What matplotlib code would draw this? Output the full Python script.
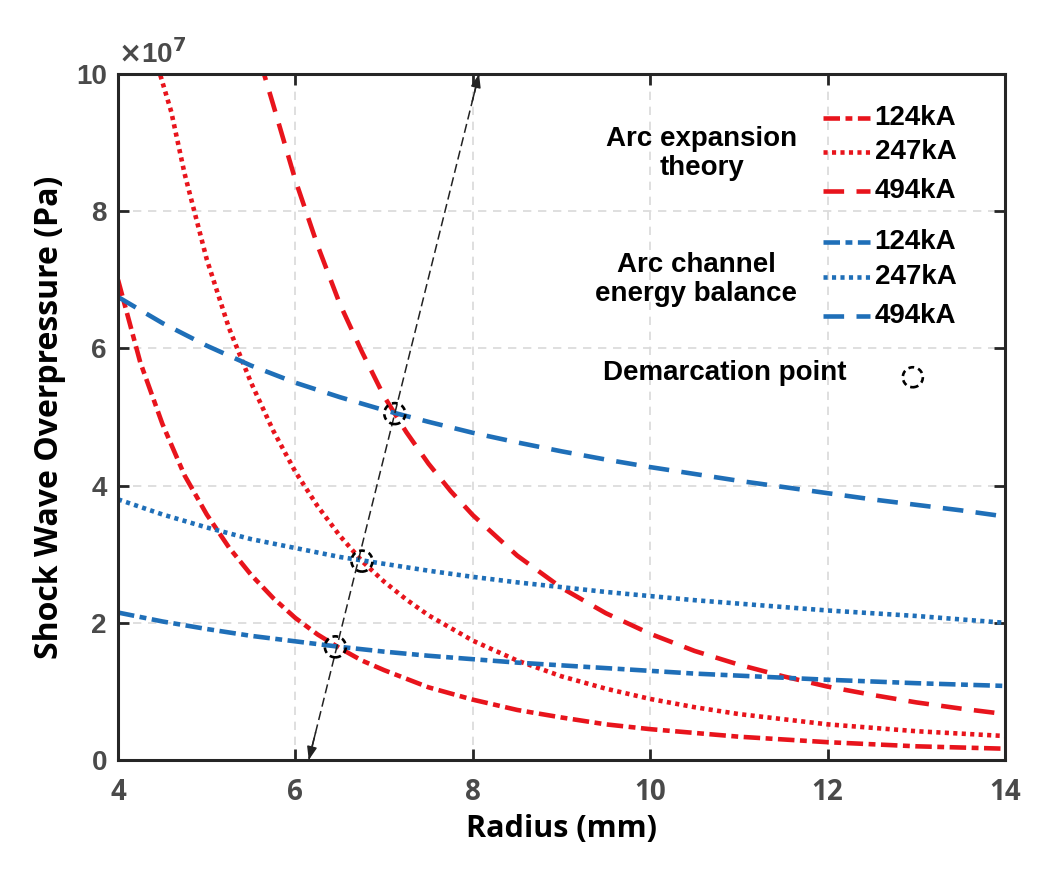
import numpy as np
import matplotlib
matplotlib.use("Agg")
import matplotlib.pyplot as plt
from matplotlib.patches import Circle
from matplotlib.transforms import ScaledTranslation

# ---------------- data (overpressure in units of 1e7 Pa) ----------------
r_red124 = [4.0, 4.25, 4.5, 4.75, 5.0, 5.25, 5.5, 5.75, 6.0, 6.25, 6.5, 6.75, 7.0, 7.5,
            8.0, 8.5, 9.0, 9.5, 10.0, 11.0, 12.0, 13.0, 14.0]
p_red124 = [7.0, 5.8, 4.9, 4.15, 3.58, 3.1, 2.7, 2.36, 2.07, 1.83, 1.63, 1.45, 1.31, 1.06,
            0.88, 0.73, 0.62, 0.52, 0.45, 0.34, 0.26, 0.20, 0.165]

r_red247 = [4.45, 4.6, 4.75, 5.0, 5.25, 5.5, 5.75, 6.0, 6.25, 6.5, 6.75, 7.0, 7.25, 7.5,
            8.0, 8.5, 9.0, 9.5, 10.0, 10.5, 11.0, 12.0, 13.0, 14.0]
p_red247 = [10.1, 9.45, 8.55, 7.3, 6.3, 5.5, 4.8, 4.2, 3.7, 3.27, 2.9, 2.6, 2.34, 2.11,
            1.74, 1.45, 1.22, 1.04, 0.89, 0.77, 0.67, 0.52, 0.42, 0.35]

r_red494 = [5.6, 5.75, 6.0, 6.25, 6.5, 6.75, 7.0, 7.25, 7.5, 7.75, 8.0, 8.5, 9.0, 9.5,
            10.0, 10.5, 11.0, 11.5, 12.0, 12.5, 13.0, 13.5, 14.0]
p_red494 = [10.2, 9.55, 8.45, 7.5, 6.65, 5.95, 5.3, 4.78, 4.32, 3.92, 3.57, 2.98, 2.51, 2.14,
            1.84, 1.59, 1.39, 1.22, 1.07, 0.95, 0.84, 0.75, 0.67]

r_blue = [4.0, 4.5, 5.0, 5.5, 6.0, 6.5, 7.0, 7.5, 8.0, 8.5, 9.0, 9.5, 10.0, 10.5,
          11.0, 11.5, 12.0, 12.5, 13.0, 13.5, 14.0]
p_blue124 = [2.15, 2.02, 1.91, 1.81, 1.73, 1.65, 1.58, 1.52, 1.47, 1.42, 1.38, 1.34, 1.30, 1.26,
             1.23, 1.20, 1.17, 1.145, 1.12, 1.10, 1.08]
p_blue247 = [3.80, 3.58, 3.39, 3.22, 3.09, 2.96, 2.86, 2.76, 2.67, 2.59, 2.52, 2.45, 2.39, 2.33,
             2.28, 2.23, 2.18, 2.14, 2.10, 2.05, 2.00]
p_blue494 = [6.75, 6.37, 6.04, 5.75, 5.50, 5.29, 5.10, 4.93, 4.77, 4.63, 4.50, 4.38, 4.27, 4.17,
             4.07, 3.98, 3.89, 3.80, 3.72, 3.64, 3.55]

demarc_r = [6.45, 6.75, 7.12]
demarc_p = [1.65, 2.90, 5.05]

arrow_r = [6.15, 8.07]
arrow_p = [0.0, 10.0]

currents = ["124kA", "247kA", "494kA"]
xticks = [4, 6, 8, 10, 12, 14]
yticks = [0, 2, 4, 6, 8, 10]

# ---------------- styling ----------------
RED = "#e8141c"
BLUE = "#1f6fb8"
LW = 3.3
ls_124 = (0, (3.6, 1.2, 1.5, 1.2))
ls_247 = (0, (0.9, 0.95))
ls_494 = (0, (4.5, 2.7))
styles = [ls_124, ls_247, ls_494]

ARIAL = ['Liberation Sans', 'DejaVu Sans']
OPEN = ['Open Sans', 'DejaVu Sans']
plt.rcParams['font.family'] = OPEN
plt.rcParams['font.weight'] = 'bold'

fig = plt.figure(figsize=(10.51, 8.69), dpi=100)
ax = fig.add_axes([0.1123, 0.1254, 0.8440, 0.7894])

ax.plot(r_red124, p_red124, color=RED, lw=LW, ls=ls_124)
ax.plot(r_red247, p_red247, color=RED, lw=LW, ls=ls_247)
ax.plot(r_red494, p_red494, color=RED, lw=LW, ls=ls_494)
ax.plot(r_blue, p_blue124, color=BLUE, lw=LW, ls=ls_124)
ax.plot(r_blue, p_blue247, color=BLUE, lw=LW, ls=ls_247)
ax.plot(r_blue, p_blue494, color=BLUE, lw=LW, ls=ls_494)

# demarcation arrow line
ax.plot(arrow_r, arrow_p, color="#222222", lw=1.1, ls=(0, (6, 3)), zorder=4)
dx = arrow_r[1] - arrow_r[0]
dy = arrow_p[1] - arrow_p[0]
for (xe, ye), sgn in [((arrow_r[0], arrow_p[0]), 1), ((arrow_r[1], arrow_p[1]), -1)]:
    ax.annotate("", xy=(xe, ye),
                xytext=(xe + sgn * 0.04 * dx, ye + sgn * 0.04 * dy),
                arrowprops=dict(arrowstyle="-|>,head_length=0.8,head_width=0.3",
                                color="#222222", lw=1.1, shrinkA=0, shrinkB=0),
                annotation_clip=False)

# dashed demarcation circles
for rx, py in zip(demarc_r, demarc_p):
    circ = Circle((0, 0), radius=0.105, fill=False, ec="black", lw=1.9,
                  ls=(0, (2.2, 1.6)),
                  transform=fig.dpi_scale_trans + ScaledTranslation(rx, py, ax.transData),
                  zorder=5)
    ax.add_patch(circ)

ax.set_xlim(4, 14)
ax.set_ylim(0, 10)
ax.set_xticks(xticks)
ax.set_yticks(yticks)
ax.grid(True, color="#d9d9d9", ls=(0, (5, 4)), lw=1.2)
ax.set_axisbelow(True)
ax.tick_params(direction="in", length=8, width=2, colors="#262626",
               labelsize=20, labelcolor="#4a4a4a", top=True, right=True)
ax.tick_params(axis="x", pad=13)
ax.tick_params(axis="y", pad=8)
for lab in ax.get_xticklabels():
    lab.set_fontweight("bold")
    lab.set_family(OPEN)
for lab in ax.get_yticklabels():
    lab.set_fontweight("bold")
    lab.set_family(ARIAL)
for sp in ax.spines.values():
    sp.set_linewidth(2.2)
    sp.set_color("#262626")

ax.set_xlabel("Radius (mm)", fontsize=22, fontweight="bold", color="black", labelpad=5)
ax.set_ylabel("Shock Wave Overpressure (Pa)", fontsize=23, fontweight="bold", color="black", labelpad=7)
ax.text(0.0, 1.008, r"$\times$10$^{7}$", transform=ax.transAxes, fontsize=20,
        color="#4a4a4a", fontweight="bold", ha="left", va="bottom", family=ARIAL)

# ---------------- custom legend ----------------
tr = ax.transAxes
leg_x0, leg_x1, leg_tx = 0.795, 0.848, 0.853
red_y = [0.936, 0.886, 0.829]
blue_y = [0.755, 0.704, 0.647]
for y, ls, lab in zip(red_y, styles, currents):
    ax.plot([leg_x0, leg_x1], [y, y], transform=tr, color=RED, lw=LW, ls=ls, clip_on=False)
    ax.text(leg_tx, y, lab, transform=tr, fontsize=20, fontweight="bold", va="center",
            ha="left", family=ARIAL)
for y, ls, lab in zip(blue_y, styles, currents):
    ax.plot([leg_x0, leg_x1], [y, y], transform=tr, color=BLUE, lw=LW, ls=ls, clip_on=False)
    ax.text(leg_tx, y, lab, transform=tr, fontsize=20, fontweight="bold", va="center",
            ha="left", family=ARIAL)

ax.text(0.658, 0.884, "Arc expansion\ntheory", transform=tr, fontsize=20,
        fontweight="bold", ha="center", va="center", linespacing=1.15, family=ARIAL)
ax.text(0.652, 0.700, "Arc channel\nenergy balance", transform=tr, fontsize=20,
        fontweight="bold", ha="center", va="center", linespacing=1.15, family=ARIAL)
ax.text(0.684, 0.564, "Demarcation point", transform=tr, fontsize=20,
        fontweight="bold", ha="center", va="center", family=ARIAL)
circ = Circle((0, 0), radius=0.1, fill=False, ec="black", lw=1.9, ls=(0, (2.2, 1.6)),
              transform=fig.dpi_scale_trans + ScaledTranslation(0.896, 0.558, tr))
ax.add_patch(circ)

fig.savefig("out.png", dpi=100)
